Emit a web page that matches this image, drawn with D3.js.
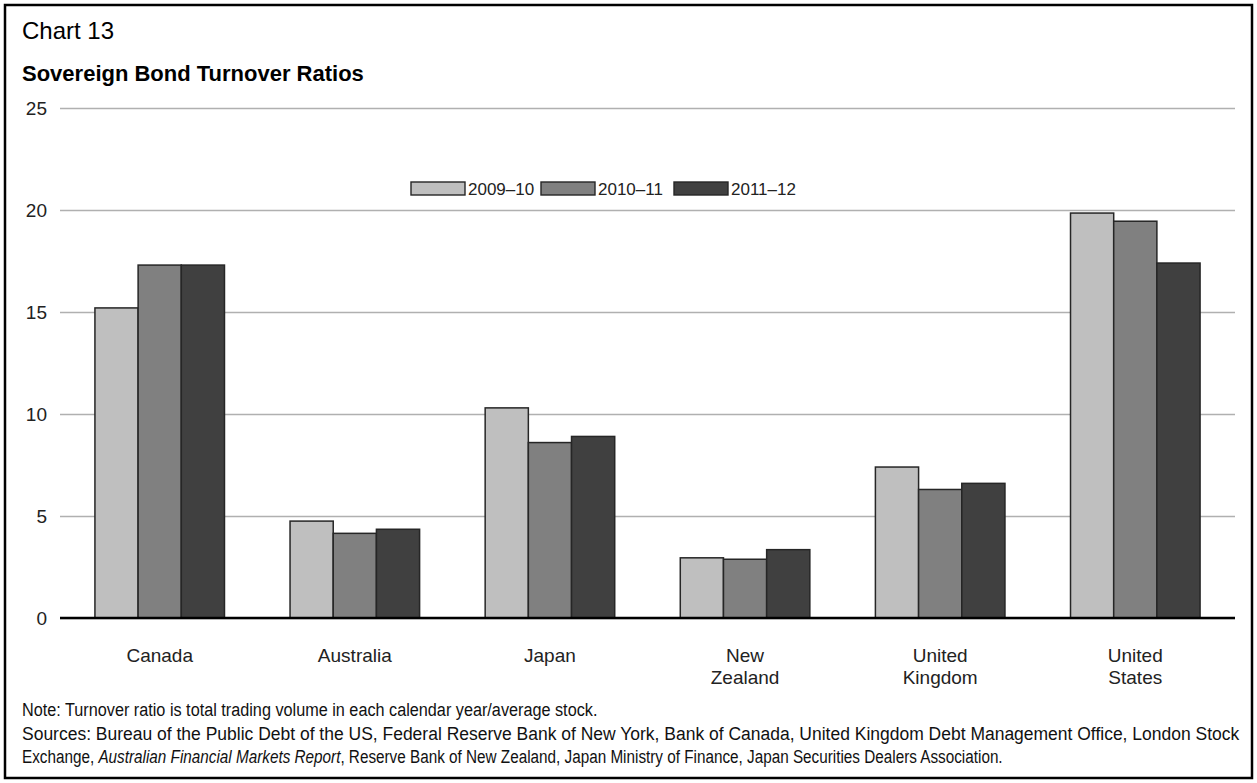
<!DOCTYPE html>
<html><head><meta charset="utf-8">
<script src="https://cdn.jsdelivr.net/npm/d3@7"></script>
<style>
html,body{margin:0;padding:0;background:#fff;}
svg text{font-family:Arial,"Liberation Sans",sans-serif;}
</style></head><body>
<svg id="c" width="1257" height="783"></svg>
<script>
const categories = ["Canada","Australia","Japan","New\nZealand","United\nKingdom","United\nStates"];
const seriesNames = ["2009\u201310","2010\u201311","2011\u201312"];
const v2009_10 = [15.2, 4.75, 10.3, 2.95, 7.4, 19.85];
const v2010_11 = [17.3, 4.15, 8.6, 2.88, 6.3, 19.45];
const v2011_12 = [17.3, 4.35, 8.9, 3.35, 6.6, 17.4];
const yTicks = [0,5,10,15,20,25];
const colors = ["#bfbfbf","#808080","#404040"];
const seriesValues = [v2009_10, v2010_11, v2011_12];

const svg = d3.select("#c");
svg.append("rect").attr("x",5).attr("y",5).attr("width",1247).attr("height",773)
  .attr("fill","#fff").attr("stroke","#000").attr("stroke-width",2.5);

svg.append("text").attr("x",22).attr("y",39).attr("font-size",24).attr("fill","#000").text("Chart 13");
svg.append("text").attr("x",22).attr("y",81).attr("font-size",22).attr("font-weight","bold").attr("fill","#000").text("Sovereign Bond Turnover Ratios");

const pLeft=60, pRight=1235, pTop=108, pBottom=618;
const y = d3.scaleLinear().domain([0,25]).range([pBottom,pTop]);
const x0 = d3.scaleBand().domain(categories).range([pLeft,pRight]).paddingInner(0.336).paddingOuter(0.179);
const x1 = d3.scaleBand().domain(seriesNames).range([0,x0.bandwidth()]).padding(0);

// grid
const yAxis = d3.axisLeft(y).tickValues(yTicks).tickSize(-(pRight-pLeft)).tickPadding(13).tickFormat(d3.format("d"));
const ga = svg.append("g").attr("transform",`translate(${pLeft},0)`).call(yAxis);
ga.select(".domain").remove();
ga.selectAll(".tick line").attr("stroke","#b0b0b0").attr("stroke-width",1.6);
ga.selectAll(".tick text").attr("font-size",19).attr("fill","#222").attr("font-family","Arial, Liberation Sans, sans-serif");

// bars
const groups = svg.append("g").selectAll("g").data(categories).join("g")
  .attr("transform",d=>`translate(${x0(d)},0)`);
groups.selectAll("rect").data((d,i)=>seriesNames.map((s,j)=>({s,j,v:seriesValues[j][i]}))).join("rect")
  .attr("x",d=>x1(d.s)).attr("width",x1.bandwidth())
  .attr("y",d=>y(d.v)).attr("height",d=>y(0)-y(d.v))
  .attr("fill",d=>colors[d.j]).attr("stroke","#262626").attr("stroke-width",1.5);

// baseline
svg.append("line").attr("x1",pLeft).attr("x2",pRight).attr("y1",y(0)).attr("y2",y(0)).attr("stroke","#000").attr("stroke-width",2.5);

// x labels
const xl = svg.append("g").selectAll("text").data(categories).join("text")
  .attr("x",d=>x0(d)+x0.bandwidth()/2).attr("y",y(0)+44)
  .attr("text-anchor","middle").attr("font-size",19).attr("fill","#222");
xl.each(function(d){
  const lines=d.split("\n"); const t=d3.select(this);
  lines.forEach((l,i)=>t.append("tspan").attr("x",x0(d)+x0.bandwidth()/2).attr("dy",i?22:0).text(l));
});

// legend
const legX=[411,541,674];
const lg = svg.append("g").selectAll("g").data(seriesNames).join("g")
  .attr("transform",(d,i)=>`translate(${legX[i]},182)`);
lg.append("rect").attr("width",54).attr("height",13).attr("fill",(d,i)=>colors[i]).attr("stroke","#262626").attr("stroke-width",1.4);
lg.append("text").attr("x",57).attr("y",13).attr("font-size",17).attr("fill","#222").text(d=>d);

// notes (narrow face emulated by horizontal scaling)
function fitLine(sel, targetW){
  const w = sel.node().getComputedTextLength();
  sel.attr("transform",`translate(22,${sel.attr("data-y")}) scale(${targetW/w},1)`);
}
const notes = svg.append("g");
const n1 = notes.append("text").attr("data-y",716).attr("font-size",19).attr("fill","#111")
  .text("Note: Turnover ratio is total trading volume in each calendar year/average stock.");
fitLine(n1, 576);
const n2 = notes.append("text").attr("data-y",740).attr("font-size",19).attr("fill","#111")
  .text("Sources: Bureau of the Public Debt of the US, Federal Reserve Bank of New York, Bank of Canada, United Kingdom Debt Management Office, London Stock");
fitLine(n2, 1218);
const n3 = notes.append("text").attr("data-y",763).attr("font-size",19).attr("fill","#111");
n3.append("tspan").text("Exchange, ");
n3.append("tspan").attr("font-style","italic").text("Australian Financial Markets Report");
n3.append("tspan").text(", Reserve Bank of New Zealand, Japan Ministry of Finance, Japan Securities Dealers Association.");
fitLine(n3, 981);
</script></body></html>
